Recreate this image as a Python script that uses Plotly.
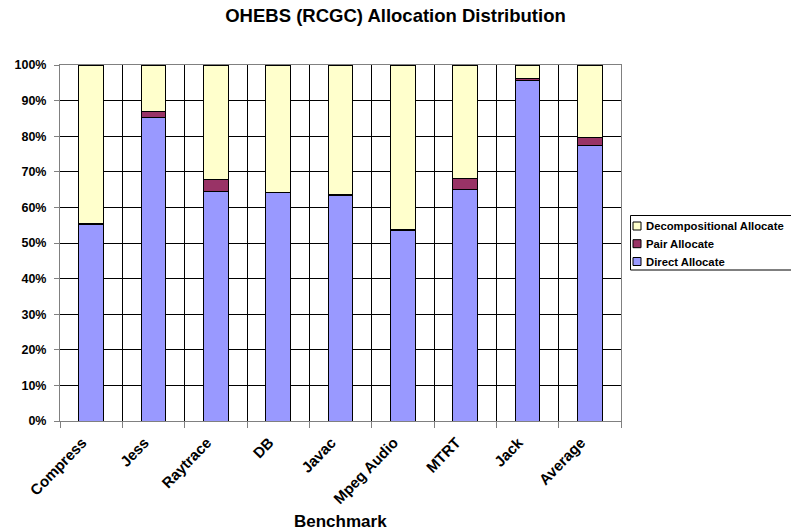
import plotly.graph_objects as go

benchmarks = ["Compress", "Jess", "Raytrace", "DB", "Javac", "Mpeg Audio", "MTRT", "Jack", "Average"]
direct_alloc = [55.3, 85.3, 64.6, 64.1, 63.4, 53.6, 64.9, 95.6, 77.4]
pair_alloc = [0.2, 1.6, 3.1, 0.2, 0.2, 0.2, 3.2, 0.7, 2.1]
decomp_alloc = [44.5, 13.1, 32.3, 35.7, 36.4, 46.2, 31.9, 3.7, 20.5]

y_ticks = [0, 10, 20, 30, 40, 50, 60, 70, 80, 90, 100]
y_tick_labels = [f"{v}%" for v in y_ticks]

FONT = "Arial, 'Liberation Sans', sans-serif"
W, H = 791, 532
ML, MR, MT, MB = 60, 170, 65, 111
PW, PH = W - ML - MR, H - MT - MB

series = [
    ("Direct Allocate", direct_alloc, "#9999FF"),
    ("Pair Allocate", pair_alloc, "#993366"),
    ("Decompositional Allocate", decomp_alloc, "#FFFFCC"),
]

fig = go.Figure()
for name, vals, color in series:
    fig.add_trace(go.Bar(
        x=benchmarks, y=vals, name=name,
        marker=dict(color=color, line=dict(color="#000000", width=1)),
    ))


def px_x(px):
    return (px - ML) / PW


def px_y(py):
    return (H - MB - py) / PH


fig.update_layout(
    width=W, height=H,
    margin=dict(l=ML, r=MR, t=MT, b=MB),
    barmode="stack", bargap=0.6,
    paper_bgcolor="white", plot_bgcolor="white",
    font=dict(family=FONT, size=12, color="black", weight="bold"),
    title=dict(text="OHEBS (RCGC) Allocation Distribution", x=0.5, xanchor="center",
               y=1 - 16 / H, yanchor="middle",
               font=dict(family=FONT, size=18.5, color="black", weight="bold")),
    showlegend=False,
)

fig.update_xaxes(
    tickson="boundaries", ticks="outside", ticklen=6, tickcolor="#808080",
    tickangle=-46, ticklabelstandoff=6, ticklabelshift=-9,
    showgrid=True, gridcolor="#000000", gridwidth=1,
    showline=True, linecolor="#808080", linewidth=1, mirror=True,
    tickfont=dict(family=FONT, size=15, color="black", weight="bold"),
)
fig.update_yaxes(
    range=[0, 100], tickvals=y_ticks, ticktext=y_tick_labels,
    ticks="outside", ticklen=5, tickcolor="#808080", ticklabelstandoff=5,
    showgrid=True, gridcolor="#000000", gridwidth=1, zeroline=False,
    showline=True, linecolor="#808080", linewidth=1, mirror=True,
    tickfont=dict(family=FONT, size=12.5, color="black", weight="bold"),
)

fig.add_annotation(
    text="Benchmark", xref="paper", yref="paper", x=0.5, y=px_y(521),
    xanchor="center", yanchor="middle", showarrow=False,
    font=dict(family=FONT, size=17, color="black", weight="bold"),
)

# Legend box drawn by hand, running off the right edge of the page
fig.add_shape(type="rect", xref="paper", yref="paper",
              x0=px_x(630.5), x1=px_x(800), y0=px_y(270), y1=px_y(215.5),
              line=dict(color="black", width=1), fillcolor="white", layer="above")
legend_rows = [("Decompositional Allocate", "#FFFFCC", 226),
               ("Pair Allocate", "#993366", 243.7),
               ("Direct Allocate", "#9999FF", 261.5)]
for label, color, cy in legend_rows:
    fig.add_shape(type="rect", xref="paper", yref="paper",
                  x0=px_x(633), x1=px_x(641), y0=px_y(cy + 4), y1=px_y(cy - 4),
                  line=dict(color="black", width=1), fillcolor=color, layer="above")
    fig.add_annotation(text=label, xref="paper", yref="paper",
                       x=px_x(644), y=px_y(cy), xanchor="left", yanchor="middle",
                       showarrow=False,
                       font=dict(family=FONT, size=11.3, color="black", weight="bold"))

fig.write_html("out.html")
